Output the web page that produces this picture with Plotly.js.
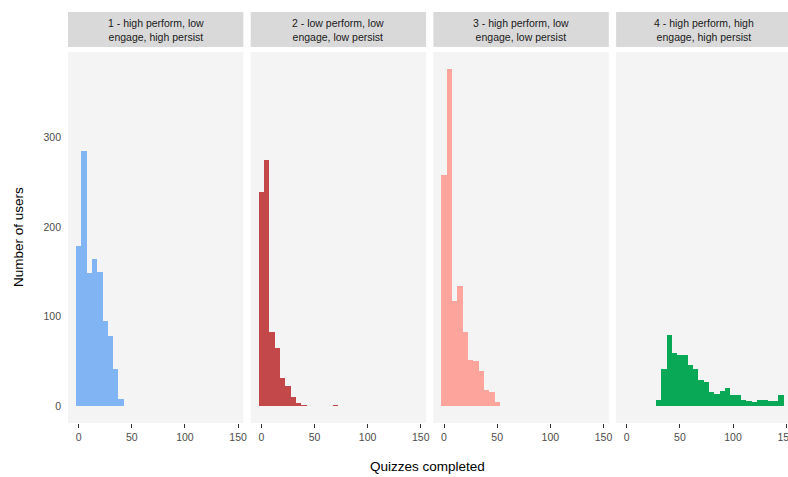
<!DOCTYPE html>
<html>
<head>
<meta charset="utf-8">
<script src="https://cdn.plot.ly/plotly-3.0.1.min.js"></script>
<style>html,body{margin:0;padding:0;background:#fff}#chart{width:788px;height:477px}</style>
</head>
<body>
<div id="chart"></div>
<script>
// Facet labels
const facetLabels = [
  "1 - high perform, low<br>engage, high persist",
  "2 - low perform, low<br>engage, low persist",
  "3 - high perform, low<br>engage, low persist",
  "4 - high perform, high<br>engage, high persist"
];
// Histogram bin centers (binwidth 5) and counts per cluster
const bins1 = [0, 5, 10, 15, 20, 25, 30, 35, 40];
const counts1 = [179, 285, 149, 164, 150, 95, 78, 41, 8];
const bins2 = [0, 5, 10, 15, 20, 25, 30, 35, 40, 70];
const counts2 = [239, 275, 83, 65, 32, 23, 10, 4, 1, 1];
const bins3 = [0, 5, 10, 15, 20, 25, 30, 35, 40, 45, 50];
const counts3 = [258, 377, 117, 134, 83, 52, 51, 39, 18, 16, 5];
const bins4 = [30, 35, 40, 45, 50, 55, 60, 65, 70, 75, 80, 85, 90, 95, 100, 105, 110, 115, 120, 125, 130, 135, 140, 145];
const counts4 = [7, 41, 80, 59, 57, 57, 46, 42, 29, 27, 16, 14, 17, 20, 12, 12, 7, 6, 5, 7, 7, 6, 6, 13];
const colors = ["#80B4F2", "#C2484A", "#FDA59C", "#09A857"];
const xTicks = [0, 50, 100, 150];
const yTicks = [0, 100, 200, 300];

const W = 788, H = 477;
const panelLeft = [68, 250.7, 433.4, 616.1];
const panelW = 175.4;
const unitsPerPx = 165 / panelW;
const yTop = 52, yBot = 423;
const stripTop = 12, stripBot = 47;

const allBins = [bins1, bins2, bins3, bins4];
const allCounts = [counts1, counts2, counts3, counts4];

const traces = [];
const layout = {
  width: W, height: H,
  margin: {l: 0, r: 0, t: 0, b: 0},
  paper_bgcolor: "#ffffff",
  plot_bgcolor: "#F4F4F4",
  showlegend: false,
  bargap: 0,
  font: {family: "Liberation Sans, Arial, sans-serif", color: "#4D4D4D"},
  shapes: [], annotations: []
};
const yDom = [(H - yBot) / H, (H - yTop) / H];
for (let i = 0; i < 4; i++) {
  const xa = i === 0 ? "x" : "x" + (i + 1);
  const xaKey = i === 0 ? "xaxis" : "xaxis" + (i + 1);
  traces.push({
    type: "bar", x: allBins[i], y: allCounts[i], width: 5,
    xaxis: xa, yaxis: "y",
    marker: {color: colors[i], line: {width: 0}},
    hoverinfo: "x+y"
  });
  const left = panelLeft[i];
  const right = Math.min(left + panelW, W);
  const r1 = -10 + (right - left) * unitsPerPx;
  layout[xaKey] = {
    domain: [left / W, right / W],
    range: [-10, r1],
    anchor: "y",
    tickvals: xTicks, ticktext: xTicks.map(String),
    ticks: "outside", ticklen: 4, tickwidth: 1, tickcolor: "#333333",
    tickfont: {size: 10.5, color: "#4D4D4D"},
    ticklabeloverflow: "allow",
    showgrid: false, zeroline: false, showline: false,
    fixedrange: true
  };
  // strip background
  layout.shapes.push({
    type: "rect", xref: "paper", yref: "paper",
    x0: left / W, x1: right / W,
    y0: (H - stripBot) / H, y1: (H - stripTop) / H,
    fillcolor: "#D9D9D9", line: {width: 0}, layer: "below"
  });
  layout.annotations.push({
    xref: "paper", yref: "paper",
    x: (left + panelW / 2) / W, y: (H - (stripTop + stripBot) / 2) / H,
    text: facetLabels[i], showarrow: false,
    xanchor: "center", yanchor: "middle", align: "center",
    font: {size: 10.5, color: "#1A1A1A"}
  });
}
layout.yaxis = {
  domain: yDom,
  range: [-18.85, 395.85],
  anchor: "x",
  tickvals: yTicks, ticktext: yTicks.map(String),
  ticks: "", ticklabelstandoff: 6,
  tickfont: {size: 10.5, color: "#4D4D4D"},
  showgrid: false, zeroline: false, showline: false,
  fixedrange: true
};
layout.annotations.push({
  xref: "paper", yref: "paper", x: 428 / W, y: (H - 466) / H,
  text: "Quizzes completed", showarrow: false,
  xanchor: "center", yanchor: "middle",
  font: {size: 13.5, color: "#000000"}
});
layout.annotations.push({
  xref: "paper", yref: "paper", x: 18 / W, y: (H - 237) / H,
  text: "Number of users", showarrow: false, textangle: -90,
  xanchor: "center", yanchor: "middle",
  font: {size: 13.5, color: "#000000"}
});
Plotly.newPlot("chart", traces, layout, {displayModeBar: false, staticPlot: true});
</script>
</body>
</html>
